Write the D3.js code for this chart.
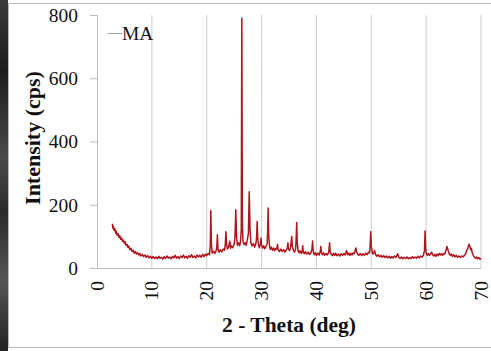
<!DOCTYPE html>
<html>
<head>
<meta charset="utf-8">
<script src="https://cdn.jsdelivr.net/npm/d3@7"></script>
<style>
  html, body { margin: 0; padding: 0; background: #fff; }
  svg { display: block; }
  text { font-family: "Liberation Serif", "Times New Roman", serif; fill: #111; }
</style>
</head>
<body>
<svg id="chart" width="491" height="351"></svg>
<script>
// XRD scan of sample MA: [2-theta (deg), intensity (cps)]
const scan = [
  [2.8,140],[2.9,126],[3.0,131],[3.1,119],[3.25,124],[3.4,110],[3.5,116],[3.65,104],[3.8,109],[4.0,97],
  [4.15,102],[4.3,91],[4.5,95],[4.65,84],[4.8,88],[5.0,78],[5.15,83],[5.3,71],[5.5,74],[5.65,65],
  [5.8,69],[6.0,58],[6.2,62],[6.4,52],[6.6,56],[6.8,47],[7.0,52],[7.2,44],[7.4,48],[7.6,41],
  [7.8,46],[8.0,38],[8.25,43],[8.5,36],[8.75,41],[9.0,34],[9.25,39],[9.5,32],[9.75,37],[10.0,31],
  [10.25,36],[10.5,30],[10.75,35],[11.0,29],[11.25,37],[11.5,31],[11.75,34],[12.0,28],[12.25,36],[12.5,30],
  [12.75,38],[13.0,31],[13.25,35],[13.5,29],[13.75,37],[14.0,32],[14.25,40],[14.5,31],[14.75,36],[15.0,30],
  [15.25,38],[15.5,33],[15.75,41],[16.0,32],[16.25,37],[16.5,31],[16.75,39],[17.0,34],[17.25,42],[17.5,33],
  [17.75,38],[18.0,32],[18.25,41],[18.5,35],[18.75,40],[19.0,34],[19.25,43],[19.5,36],[19.75,44],[20.0,39],
  [20.25,46],[20.5,42],[20.65,70],[20.75,182],[20.85,75],[21.0,47],[21.25,53],[21.5,46],[21.75,56],[21.85,70],
  [21.95,105],[22.05,60],[22.25,50],[22.5,58],[22.75,51],[23.0,60],[23.25,56],[23.4,78],[23.5,115],[23.6,80],
  [23.75,60],[24.0,67],[24.2,85],[24.35,62],[24.5,70],[24.75,64],[25.0,76],[25.15,95],[25.3,184],[25.45,98],
  [25.6,72],[25.8,80],[26.0,70],[26.15,82],[26.3,120],[26.4,790],[26.5,150],[26.6,85],[26.8,74],[27.0,80],
  [27.2,72],[27.4,88],[27.6,110],[27.75,241],[27.9,120],[28.05,80],[28.25,70],[28.5,77],[28.75,66],[29.0,80],
  [29.1,100],[29.2,147],[29.3,95],[29.45,72],[29.6,64],[29.8,78],[29.9,95],[30.0,72],[30.2,63],[30.4,70],
  [30.6,61],[30.8,68],[31.0,75],[31.1,110],[31.2,190],[31.3,105],[31.45,68],[31.6,59],[31.8,66],[32.0,56],
  [32.2,63],[32.4,55],[32.6,62],[32.8,60],[32.9,75],[33.0,58],[33.25,52],[33.5,60],[33.75,53],[34.0,58],
  [34.25,50],[34.5,57],[34.7,62],[34.8,80],[34.9,60],[35.1,55],[35.3,66],[35.5,100],[35.6,70],[35.8,56],
  [36.0,50],[36.2,60],[36.3,90],[36.4,144],[36.5,80],[36.65,55],[36.8,48],[37.0,55],[37.25,46],[37.4,52],
  [37.5,70],[37.6,50],[37.8,45],[38.0,52],[38.25,44],[38.5,50],[38.75,43],[39.0,48],[39.2,60],[39.3,85],
  [39.4,55],[39.6,42],[39.8,48],[40.0,40],[40.25,47],[40.5,41],[40.7,52],[40.8,68],[40.9,50],[41.1,42],
  [41.3,48],[41.5,40],[41.75,46],[42.0,41],[42.25,50],[42.4,80],[42.5,52],[42.7,44],[42.9,39],[43.1,46],
  [43.3,40],[43.5,47],[43.75,39],[44.0,44],[44.25,38],[44.5,45],[44.75,40],[45.0,46],[45.25,41],[45.5,55],
  [45.7,42],[45.9,47],[46.1,40],[46.3,46],[46.5,41],[46.7,48],[46.9,45],[47.05,55],[47.2,63],[47.35,50],
  [47.5,44],[47.75,40],[48.0,46],[48.25,39],[48.5,45],[48.75,40],[49.0,47],[49.25,42],[49.5,50],[49.7,48],
  [49.8,75],[49.9,115],[50.0,70],[50.15,52],[50.3,44],[50.5,48],[50.6,55],[50.8,42],[51.0,37],[51.25,42],
  [51.5,35],[51.75,40],[52.0,34],[52.25,39],[52.5,33],[52.75,38],[53.0,32],[53.25,37],[53.5,31],[53.75,36],
  [54.0,32],[54.25,38],[54.5,33],[54.8,45],[55.0,34],[55.25,30],[55.5,35],[55.75,29],[56.0,34],[56.25,30],
  [56.5,35],[56.75,29],[57.0,33],[57.25,30],[57.5,36],[57.75,31],[58.0,35],[58.25,31],[58.5,37],[58.75,32],
  [59.0,38],[59.25,34],[59.5,40],[59.7,55],[59.8,117],[59.9,65],[60.0,48],[60.2,40],[60.4,46],[60.6,40],
  [60.8,45],[61.0,50],[61.2,41],[61.4,38],[61.6,43],[61.8,37],[62.0,44],[62.2,40],[62.4,46],[62.6,41],
  [62.8,45],[63.0,40],[63.2,46],[63.4,44],[63.6,55],[63.8,68],[64.0,56],[64.2,45],[64.4,40],[64.6,44],
  [64.8,37],[65.0,42],[65.25,35],[65.5,40],[65.75,34],[66.0,38],[66.25,33],[66.5,38],[66.75,35],[67.0,40],
  [67.2,45],[67.4,55],[67.6,62],[67.8,75],[67.95,70],[68.1,58],[68.25,62],[68.4,48],[68.6,40],[68.8,34],
  [69.0,31],[69.2,35],[69.4,29],[69.6,33],[69.8,28],[70.0,31]
];

const seriesName = "MA";
const xTicks = [0, 10, 20, 30, 40, 50, 60, 70];
const yTicks = [0, 200, 400, 600, 800];
const xTitle = "2 - Theta (deg)";
const yTitle = "Intensity (cps)";

const svg = d3.select("#chart");
const W = 491, H = 351;
const m = { left: 97, right: 10, top: 15, bottom: 83 };

// photo strip on the left edge and page frame
const defs = svg.append("defs");
const grad = defs.append("linearGradient").attr("id", "strip").attr("x1", 0).attr("y1", 0).attr("x2", 0).attr("y2", 1);
[[0, "#3a3a3a"], [0.2, "#1c1c1c"], [0.45, "#4a4a4a"], [0.6, "#2a2a2a"], [0.8, "#555"], [1, "#222"]]
  .forEach(([o, c]) => grad.append("stop").attr("offset", o).attr("stop-color", c));
svg.append("rect").attr("x", 0).attr("y", 0).attr("width", 8).attr("height", H).attr("fill", "url(#strip)");
svg.append("path").attr("d", `M${W},3.5H8.5V347.5H${W}`).attr("fill", "none").attr("stroke", "#b8b8b8").attr("stroke-width", 1);

const x = d3.scaleLinear().domain([0, 70]).range([m.left, W - m.right]);
const y = d3.scaleLinear().domain([0, 800]).range([268, m.top]);

// vertical gridlines
svg.append("g").selectAll("line").data(xTicks.filter(d => d > 0)).join("line")
  .attr("x1", d => x(d)).attr("x2", d => x(d))
  .attr("y1", y(800)).attr("y2", y(0))
  .attr("stroke", "#cfcfcf").attr("stroke-width", 1);

// y axis
const yAxis = svg.append("g").attr("transform", `translate(${m.left},0)`)
  .call(d3.axisLeft(y).tickValues(yTicks).tickSize(7).tickPadding(12));
yAxis.select(".domain").attr("stroke", "#bdbdbd");
yAxis.selectAll(".tick line").attr("stroke", "#bdbdbd");
yAxis.selectAll(".tick text").attr("font-size", 19.5).attr("fill", "#111")
  .attr("font-family", "Liberation Serif, serif");

// x axis (labels rotated)
const xAxis = svg.append("g").attr("transform", `translate(0,${y(0)})`)
  .call(d3.axisBottom(x).tickValues(xTicks).tickSize(0).tickFormat(d3.format("d")));
xAxis.select(".domain").attr("stroke", "#bdbdbd").attr("d", `M${m.left - 7},0.5H${x(70)}`);
xAxis.selectAll(".tick text")
  .attr("font-size", 19.5).attr("fill", "#111").attr("font-family", "Liberation Serif, serif")
  .attr("text-anchor", "end").attr("dy", null).attr("y", 0)
  .attr("transform", "translate(6,13) rotate(-90)");

// scan line
const line = d3.line().x(d => x(d[0])).y(d => y(d[1]));
svg.append("path").datum(scan)
  .attr("fill", "none").attr("stroke", "#b0141c").attr("stroke-width", 1.5)
  .attr("stroke-linejoin", "round").attr("d", line);

// legend
svg.append("line").attr("x1", 108).attr("x2", 122).attr("y1", 33.5).attr("y2", 33.5)
  .attr("stroke", "#a0a0a0").attr("stroke-width", 1);
svg.append("text").attr("x", 122).attr("y", 40).attr("font-size", 19.5).text(seriesName);

// axis titles
svg.append("text").attr("x", 289).attr("y", 332).attr("text-anchor", "middle")
  .attr("font-size", 21.5).attr("font-weight", "bold").text(xTitle);
svg.append("text").attr("transform", "translate(40,138) rotate(-90)").attr("text-anchor", "middle")
  .attr("font-size", 22).attr("font-weight", "bold").text(yTitle);
</script>
</body>
</html>
